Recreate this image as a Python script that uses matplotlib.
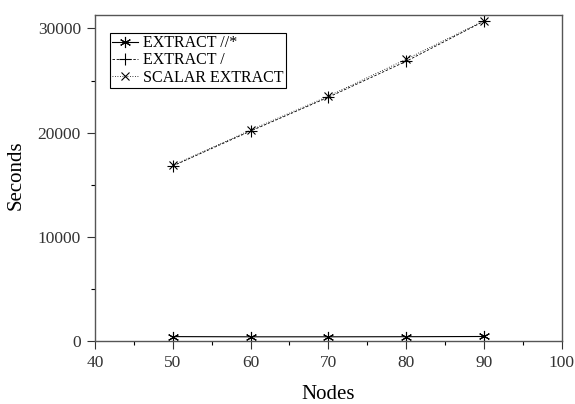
import matplotlib
matplotlib.use("Agg")
import matplotlib.pyplot as plt
from matplotlib.ticker import MultipleLocator

plt.rcParams['font.family'] = ['Liberation Serif', 'DejaVu Serif']

nodes = [50, 60, 70, 80, 90]
extract_desc = [420, 400, 400, 410, 430]
extract_child = [16800, 20150, 23400, 26850, 30700]
scalar_extract = [16850, 20250, 23500, 27050, 30750]

fig = plt.figure(figsize=(5.75, 4.04), dpi=100)
ax = fig.add_axes([0.165, 0.156, 0.812, 0.807])

ax.plot(nodes, extract_desc, color="black", linestyle="-", lw=0.8,
        marker=(6, 2, 0), markersize=8, mew=0.8, label="EXTRACT //*")
ax.plot(nodes, extract_child, color="black", linestyle=(0, (3, 2)), lw=0.6,
        marker="+", markersize=8, mew=0.8, label="EXTRACT /")
ax.plot(nodes, scalar_extract, color="black", linestyle=(0, (1, 2)), lw=0.6,
        marker="x", markersize=6, mew=0.8, label="SCALAR EXTRACT")

ax.set_xlim(40, 100)
ax.set_ylim(0, 31300)
ax.xaxis.set_major_locator(MultipleLocator(10))
ax.xaxis.set_minor_locator(MultipleLocator(5))
ax.yaxis.set_major_locator(MultipleLocator(10000))
ax.yaxis.set_minor_locator(MultipleLocator(5000))
ax.tick_params(which="major", direction="out", length=6, width=0.8, pad=4,
               labelsize=12.5, colors="#333333")
ax.tick_params(which="minor", direction="out", length=3, width=0.8)
for s in ax.spines.values():
    s.set_color("#555555")
    s.set_linewidth(1.0)

ax.set_xlabel("Nodes", fontsize=15)
ax.set_ylabel("Seconds", fontsize=15)
ax.xaxis.set_label_coords(0.5, -0.135)
ax.yaxis.set_label_coords(-0.148, 0.51)

leg = ax.legend(loc="upper left", bbox_to_anchor=(0.015, 0.97), fontsize=11.5,
                handlelength=1.6, handletextpad=0.3, labelspacing=0.08,
                borderpad=0.15, fancybox=False, framealpha=1)
leg.get_frame().set_edgecolor("black")
leg.get_frame().set_linewidth(0.8)

fig.savefig("out.png", dpi=100)
